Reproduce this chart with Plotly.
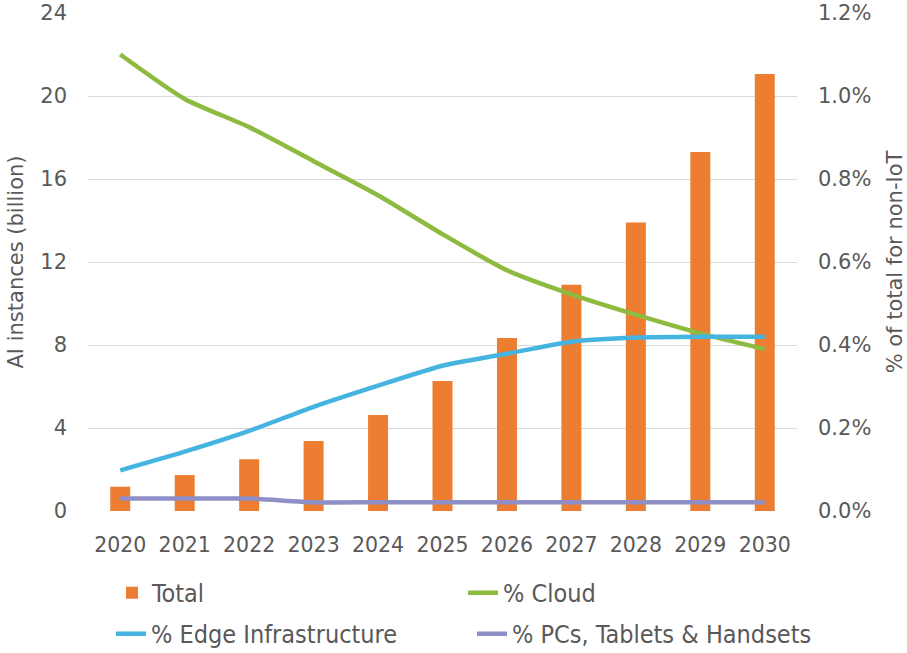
import plotly.graph_objects as go

years = ["2020", "2021", "2022", "2023", "2024", "2025", "2026", "2027", "2028", "2029", "2030"]
total_billion = [1.17, 1.73, 2.5, 3.37, 4.63, 6.27, 8.34, 10.9, 13.9, 17.3, 21.06]
pct_cloud = [1.10, 0.993, 0.925, 0.843, 0.761, 0.667, 0.580, 0.522, 0.473, 0.428, 0.390]
pct_edge = [0.098, 0.143, 0.193, 0.251, 0.302, 0.350, 0.379, 0.408, 0.418, 0.420, 0.420]
pct_pcs = [0.030, 0.030, 0.030, 0.021, 0.021, 0.021, 0.021, 0.021, 0.021, 0.021, 0.021]

left_ticks = [0, 4, 8, 12, 16, 20, 24]
right_ticks = [0.0, 0.2, 0.4, 0.6, 0.8, 1.0, 1.2]

TEXT = "#595959"
GRID = "#d9d9d9"
FONT = "DejaVu Sans, Verdana, sans-serif"
LEGEND_FONT = dict(family="DejaVu Sans Condensed, Roboto, sans-serif", size=25, color=TEXT)

fig = go.Figure()
# Bars on the left axis (billions)
fig.add_trace(go.Bar(
    x=years, y=total_billion, name="Total",
    marker=dict(color="#ed7d31", line=dict(width=0)),
    yaxis="y", legend="legend",
))
# Share lines on the right axis (percent), each with its own legend box
line_series = [
    ("% Cloud", pct_cloud, "#8cbb3f", "legend2"),
    ("% Edge Infrastructure", pct_edge, "#45b4e0", "legend3"),
    ("% PCs, Tablets & Handsets", pct_pcs, "#8d8fc6", "legend4"),
]
for name, vals, color, leg in line_series:
    fig.add_trace(go.Scatter(
        x=years, y=vals, name=name, mode="lines",
        line=dict(color=color, width=4.5, shape="spline", smoothing=0.6),
        yaxis="y2", legend=leg,
    ))


def legend_box(x, y):
    return dict(
        orientation="h", x=x, y=y, xref="container", yref="container",
        xanchor="left", yanchor="middle", font=LEGEND_FONT,
        itemwidth=30, bgcolor="rgba(0,0,0,0)",
    )


fig.update_layout(
    width=907, height=653,
    margin=dict(l=88, r=110, t=13, b=142),
    paper_bgcolor="white", plot_bgcolor="white",
    font=dict(family=FONT, size=21, color=TEXT),
    bargap=0.69,
    showlegend=True,
    legend=legend_box(0.1235, 0.0919),
    legend2=legend_box(0.5105, 0.0919),
    legend3=legend_box(0.1224, 0.0291),
    legend4=legend_box(0.5204, 0.0291),
    xaxis=dict(
        type="category", showgrid=False, showline=False, zeroline=False,
        ticks="", ticklabelstandoff=19, tickfont=dict(size=20.5, color=TEXT),
        automargin=False,
    ),
    yaxis=dict(
        range=[0, 24], tickvals=left_ticks, ticktext=[str(v) for v in left_ticks],
        showgrid=True, gridcolor=GRID, gridwidth=1, zeroline=False, showline=False,
        ticks="", ticklabelstandoff=20, tickfont=dict(size=21, color=TEXT),
        title=dict(text="AI instances (billion)", font=dict(size=21, color=TEXT), standoff=10),
        automargin=False,
    ),
    yaxis2=dict(
        range=[0, 1.2], tickvals=right_ticks, ticktext=[f"{v:.1f}%" for v in right_ticks],
        overlaying="y", side="right", showgrid=False, zeroline=False, showline=False,
        ticks="", ticklabelstandoff=20, tickfont=dict(size=21, color=TEXT),
        title=dict(text="% of total for non-IoT", font=dict(size=21, color=TEXT), standoff=18),
        automargin=False,
    ),
)

fig.write_html("out.html")
